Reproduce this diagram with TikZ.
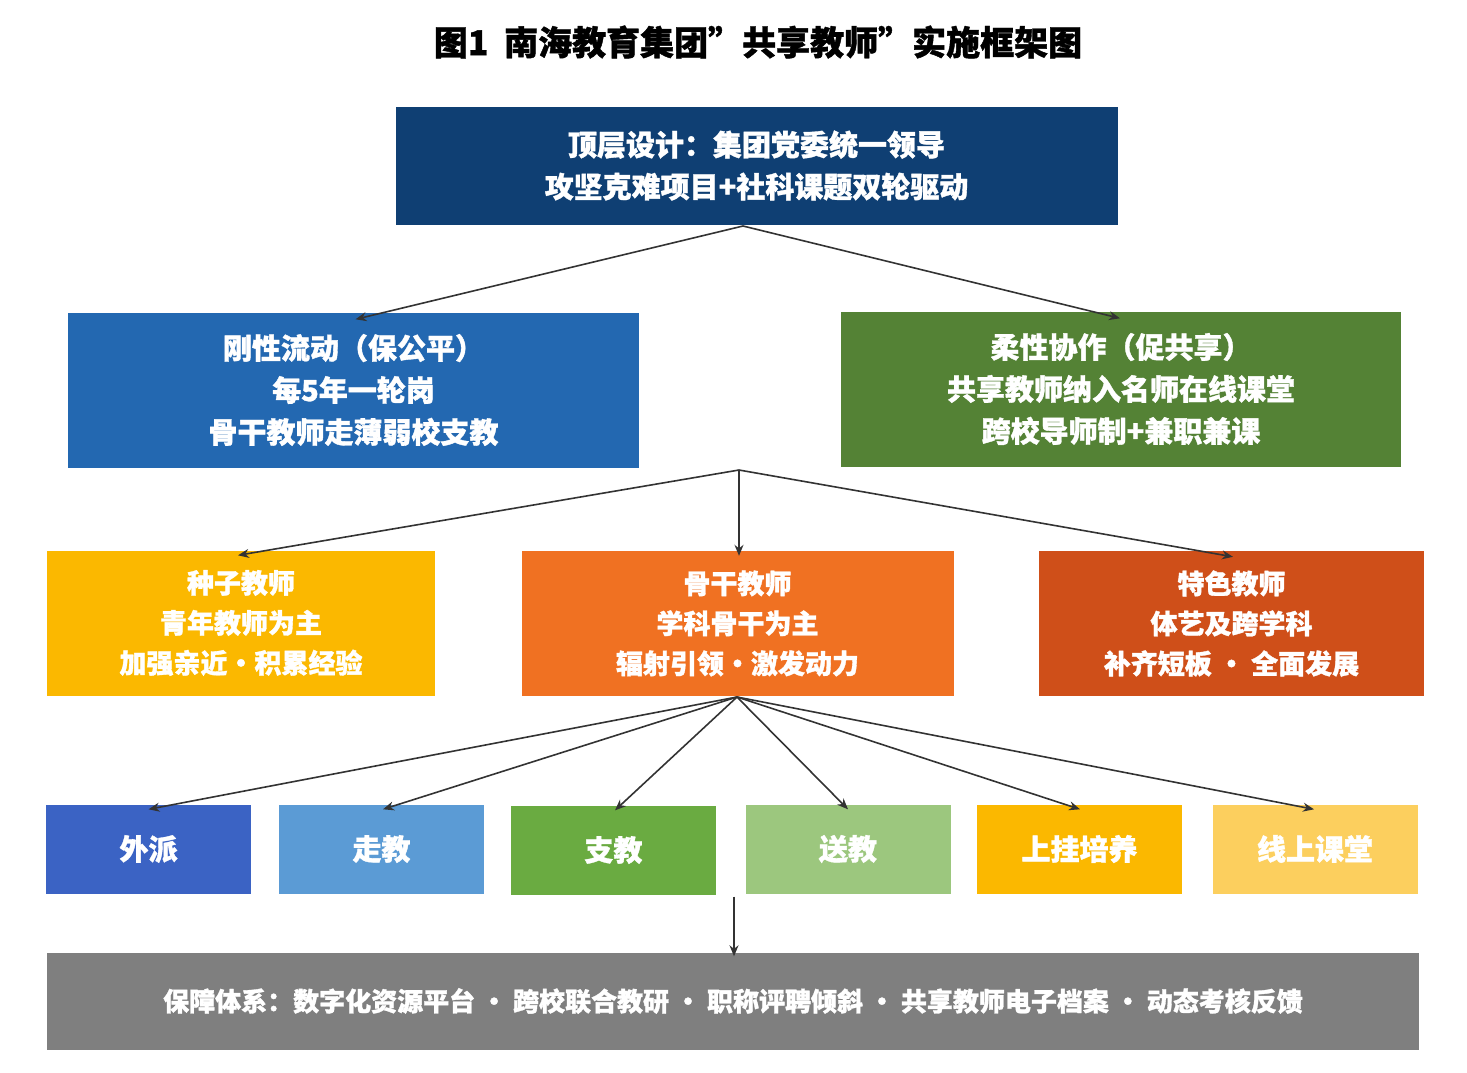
\documentclass[tikz,border=0pt]{standalone}
\usepackage{fontspec}
\setmainfont{Noto Sans CJK SC}[FakeBold=1.2]
\usetikzlibrary{arrows.meta}
\definecolor{cTop}{HTML}{0F3F73}
\definecolor{cL}{HTML}{2368B1}
\definecolor{cR}{HTML}{548235}
\definecolor{cA}{HTML}{FBB800}
\definecolor{cB}{HTML}{F07122}
\definecolor{cC}{HTML}{CF4F19}
\definecolor{d1}{HTML}{3B63C4}
\definecolor{d2}{HTML}{5B9BD5}
\definecolor{d3}{HTML}{6AAB41}
\definecolor{d4}{HTML}{9CC77E}
\definecolor{d5}{HTML}{FBB800}
\definecolor{d6}{HTML}{FCCF5E}
\definecolor{cG}{HTML}{7F7F7F}
\definecolor{cArr}{HTML}{333333}
\begin{document}
\begin{tikzpicture}[x=1pt,y=-1pt,
 box/.style={fill=#1,draw=none,text=white,font=\bfseries\fontsize{29}{42}\selectfont,align=center,inner sep=0pt},
 arr/.style={draw=cArr,line width=1.6pt,-{Stealth[length=11pt,width=9pt]}}]
\useasboundingbox (0,0) rectangle (1467,1072);
\node[font=\bfseries\fontsize{34}{40}\selectfont] (title) at (758,42) {图1\ \ 南海教育集团"共享教师"实施框架图};
\node[box=cTop,minimum width=722pt,minimum height=118pt] (top) at (756.5,165.5) {顶层设计：集团党委统一领导\\攻坚克难项目+社科课题双轮驱动};
\node[box=cL,minimum width=571pt,minimum height=155pt] (L) at (353.5,390) {刚性流动（保公平）\\每5年一轮岗\\骨干教师走薄弱校支教};
\node[box=cR,minimum width=560pt,minimum height=155pt] (R) at (1121,389) {柔性协作（促共享）\\共享教师纳入名师在线课堂\\跨校导师制+兼职兼课};
\tikzset{box3/.style={box=#1,minimum height=145pt,font=\bfseries\fontsize{27}{40}\selectfont}}
\node[box3=cA,minimum width=388pt] (A) at (241,623) {种子教师\\青年教师为主\\加强亲近·积累经验};
\node[box3=cB,minimum width=432pt] (B) at (737.5,623.5) {骨干教师\\学科骨干为主\\辐射引领·激发动力};
\node[box3=cC,minimum width=385pt] (C) at (1231.5,623.5) {特色教师\\体艺及跨学科\\补齐短板 · 全面发展};
\tikzset{box4/.style={box=#1,minimum width=205pt,minimum height=89pt,font=\bfseries\fontsize{29}{36}\selectfont}}
\node[box4=d1] (k1) at (148.5,849) {外派};
\node[box4=d2] (k2) at (381.5,849) {走教};
\node[box4=d3] (k3) at (613.5,850) {支教};
\node[box4=d4] (k4) at (848,849) {送教};
\node[box4=d5] (k5) at (1079.5,849) {上挂培养};
\node[box4=d6] (k6) at (1315,849) {线上课堂};
\node[box=cG,minimum width=1372pt,minimum height=97pt,font=\bfseries\fontsize{26}{30}\selectfont] (G) at (733,1001) {保障体系：数字化资源平台 · 跨校联合教研 · 职称评聘倾斜 · 共享教师电子档案 · 动态考核反馈};
\coordinate (o1) at (743,226);
\coordinate (o2) at (739,470);
\coordinate (o3) at (737,697);
\draw[arr] (o1) -- ([xshift=2pt,yshift=-7pt]L.north);
\draw[arr] (o1) -- ([xshift=-1pt,yshift=-7pt]R.north);
\draw[arr] (o2) -- ([xshift=-3pt,yshift=-5pt]A.north);
\draw[arr] (o2) -- ([xshift=1.5pt,yshift=-5pt]B.north);
\draw[arr] (o2) -- ([xshift=1.5pt,yshift=-6pt]C.north);
\foreach \k/\dx in {k1/0,k2/1.5,k3/1.5,k4/0,k5/0.5,k6/-1}
  \draw[arr] (o3) -- ([xshift=\dx pt,yshift=-5pt]\k.north);
\draw[arr] (k3.south -| o3) ++(-3,2) coordinate (dd) -- ([xshift=1pt,yshift=-4pt]G.north);
\end{tikzpicture}
\end{document}
